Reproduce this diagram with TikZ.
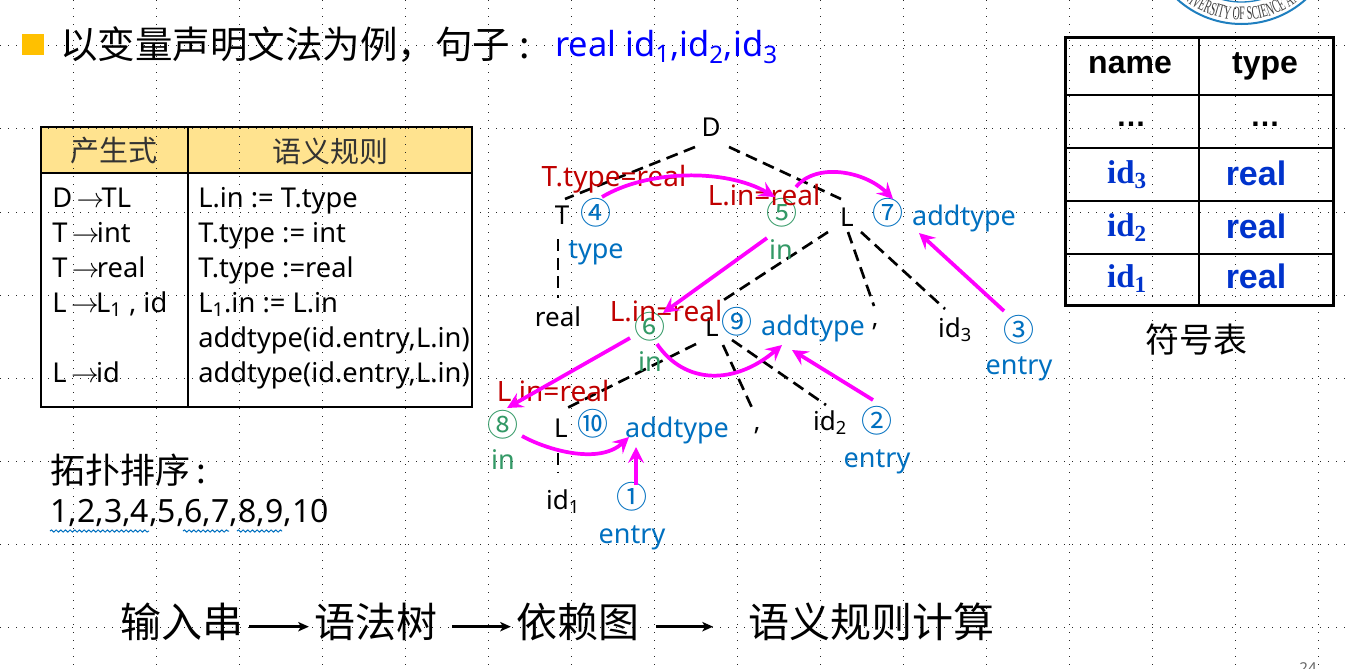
\documentclass[tikz,border=0pt]{standalone}
\usepackage{fontspec}
\usepackage{xcolor}
\setmainfont{Noto Sans}
\newfontfamily\cjk{Noto Sans CJK SC}
\newfontfamily\boldsans{Liberation Sans}
\newfontfamily\boldserif{Liberation Serif}
\newfontfamily\sealfont[FakeStretch=0.52]{Liberation Serif}
\usetikzlibrary{arrows.meta,decorations.text,decorations.pathmorphing}

\definecolor{attrblue}{HTML}{0070C0}
\definecolor{attrgreen}{HTML}{339966}
\definecolor{valred}{HTML}{C00000}
\definecolor{headfill}{HTML}{FFE38F}
\definecolor{tabblue}{HTML}{0033CC}
\definecolor{titleblue}{HTML}{0000FF}
\definecolor{sealblue}{HTML}{1F7FBF}
\definecolor{bulletfill}{HTML}{FFC000}
\definecolor{depmagenta}{HTML}{FF00FF}

% sizes are given in pixels of the reference
\newcommand{\pxfont}[1]{\fontsize{\the\dimexpr#1pt*3/4\relax}{\the\dimexpr#1pt*9/10\relax}\selectfont}
\newcommand{\prodto}{\,$\rightarrow$\hspace{-2pt}}

\tikzset{
    treelabel/.style={font=\pxfont{26}, text=black, inner sep=0pt},
    treeedge/.style={black, line width=2pt, dash pattern=on 9pt off 5pt},
    attrtext/.style={font=\pxfont{27}, text=attrblue, inner sep=0pt},
    intext/.style={font=\pxfont{27}, text=attrgreen, inner sep=0pt},
    valtext/.style={font=\pxfont{28}, text=valred, inner sep=0pt},
    bluenum/.style={font=\cjk\pxfont{31}, text=attrblue, inner sep=0pt},
    greennum/.style={font=\cjk\pxfont{31}, text=attrgreen, inner sep=0pt},
    deparrow/.style={depmagenta, line width=2.8pt, -{Stealth[length=12pt, width=12pt, inset=4.5pt]}},
    flowarrow/.style={black, line width=2pt, -{Stealth[length=8pt, width=7pt, inset=2pt]}},
    ruletext/.style={font=\pxfont{27.3}, anchor=base west, inner sep=0pt},
    headtext/.style={font=\cjk\pxfont{29}, text=black!80, inner sep=0pt},
    symhead/.style={font=\boldsans\bfseries\pxfont{32}, anchor=base, inner sep=0pt},
    symid/.style={font=\boldserif\bfseries\pxfont{33}, text=tabblue, inner sep=0pt},
    symreal/.style={font=\boldsans\bfseries\pxfont{34}, text=tabblue, inner sep=0pt},
    symdots/.style={font=\boldsans\bfseries\pxfont{30}, inner sep=0pt},
    flowtext/.style={font=\cjk\pxfont{41}, inner sep=0pt},
    griddots/.style={black!85, line width=0.75pt, dash pattern=on 0.75pt off 5.25pt},
}

\begin{document}
\begin{tikzpicture}[x=0.75pt, y=-0.75pt]
    \useasboundingbox (0,0) rectangle (1349,668);
    \clip (0,0) rectangle (1349,668);
    \fill[white] (0,0) rectangle (1349,668);
    \fill[headfill] (41,127) rectangle (472,173);

    % dotted background
    \foreach \gy in {45,128,212,295,378,461,544,627}
        \draw[griddots] (0,\gy) -- (1349,\gy);
    \foreach \gx in {73,156,239,322,405,488,571,654,737,820,903,986,1069,1152,1235,1318}
        \draw[griddots] (\gx,0) -- (\gx,668);

    % seal, cut by the page
    \draw[sealblue, line width=1.5pt] (1241.5,-72) circle (96);
    \draw[sealblue, line width=1pt] (1241.5,-72) circle (74);
    \path[decorate, decoration={text along path, text align=center,
        text={|\sealfont\pxfont{19}\color{black!75}|UNIVERSITY OF SCIENCE AND}}]
        (1161.8,-26) .. controls (1197.2,35.3) and (1285.8,35.3) .. (1321.2,-26);

    % title
    \fill[bulletfill] (22,34) rectangle (44,55);
    \node[font=\cjk\pxfont{37.5}, anchor=west, inner sep=0pt] (title) at (60,45) {以变量声明文法为例，句子\hspace{7pt}:};
    \node[font=\pxfont{34.5}, text=titleblue, anchor=west, inner sep=0pt] (sentence) at (555,47)
        {real id\textsubscript{1},id\textsubscript{2},id\textsubscript{3}};

    % rule table
    \draw[line width=1.5pt] (41,127) rectangle (472,407);
    \draw[line width=1.5pt] (41,173) -- (472,173);
    \draw[line width=1.5pt] (188,127) -- (188,407);
    \node[headtext] (headprod) at (114,151) {产生式};
    \node[headtext] (headrule) at (330,151) {语义规则};
    \node[ruletext] (prod1) at (52,207) {D\prodto TL};
    \node[ruletext] (prod2) at (52,242) {T\prodto int};
    \node[ruletext] (prod3) at (52,277) {T\prodto real};
    \node[ruletext] (prod4) at (52,312) {L\prodto L\textsubscript{1} , id};
    \node[ruletext] (prod5) at (52,382) {L\prodto id};
    \node[ruletext] (rule1) at (198,207) {L.in := T.type};
    \node[ruletext] (rule2) at (198,242) {T.type := int};
    \node[ruletext] (rule3) at (198,277) {T.type :=real};
    \node[ruletext] (rule4) at (198,312) {L\textsubscript{1}.in := L.in};
    \node[ruletext] (rule5) at (198,347) {addtype(id.entry,L.in)};
    \node[ruletext] (rule6) at (198,382) {addtype(id.entry,L.in)};

    % topological order
    \node[font=\cjk\pxfont{35}, anchor=west, inner sep=0pt] (topo) at (50,470) {拓扑排序\,:};
    \node[font=\pxfont{32}, anchor=west, inner sep=0pt] (order) at (50,513) {1,2,3,4,5,6,7,8,9,10};
    \draw[attrblue, line width=0.75pt, decorate, decoration={snake, amplitude=0.8pt, segment length=3.5pt}] (50,531) -- (149,531);
    \draw[attrblue, line width=0.75pt, decorate, decoration={snake, amplitude=0.8pt, segment length=3.5pt}] (183,531) -- (229,531);
    \draw[attrblue, line width=0.75pt, decorate, decoration={snake, amplitude=0.8pt, segment length=3.5pt}] (237,531) -- (282,531);

    % parse tree
    \node[treelabel] (D) at (711,127) {D};
    \node[treelabel] (T) at (562,215) {T};
    \node[treelabel] (L) at (847,217) {L};
    \node[treelabel] (real) at (558,317) {real};
    \node[treelabel] (commaa) at (875,327) {,};
    \node[treelabel] (ida) at (955,330) {id\textsubscript{3}};
    \node[treelabel] (Lb) at (712,327) {L};
    \node[treelabel] (commab) at (757,431) {,};
    \node[treelabel] (idb) at (830,423) {id\textsubscript{2}};
    \node[treelabel] (Lc) at (561,428) {L};
    \node[treelabel] (idc) at (563,502) {id\textsubscript{1}};

    \draw[treeedge] ([shift={(-16,20)}]D.center) -- ([shift={(3,-16)}]T.center);
    \draw[treeedge] ([shift={(18,20)}]D.center) -- ([shift={(-6,-18)}]L.center);
    \draw[treeedge] ([shift={(-4,24)}]T.center) -- ([shift={(0,-19)}]real.center);
    \draw[treeedge] ([shift={(-19,15)}]L.center) -- ([shift={(7,-24)}]Lb.center);
    \draw[treeedge] ([shift={(1,15)}]L.center) -- ([shift={(-1,-21)}]commaa.center);
    \draw[treeedge] ([shift={(14,15)}]L.center) -- ([shift={(-10,-21)}]ida.center);
    \draw[treeedge] ([shift={(-16,17)}]Lb.center) -- ([shift={(4,-19)}]Lc.center);
    \draw[treeedge] ([shift={(11,18)}]Lb.center) -- ([shift={(-4,-21)}]commab.center);
    \draw[treeedge] ([shift={(20,13)}]Lb.center) -- ([shift={(-4,-18)}]idb.center);
    \draw[treeedge] ([shift={(-3,25)}]Lc.center) -- ([shift={(-5,-30)}]idc.center);

    % attributes
    \node[bluenum] (nfour) at (596,213) {④};
    \node[attrtext] (type) at (596,253) {type};
    \node[greennum] (nfive) at (782,213) {⑤};
    \node[intext] (ina) at (781,250) {in};
    \node[bluenum] (nseven) at (888,213) {⑦};
    \node[attrtext] (adda) at (964,218) {addtype};
    \node[bluenum] (nthree) at (1019,330) {③};
    \node[attrtext] (entrya) at (1019,369) {entry};
    \node[greennum] (nsix) at (650,327) {⑥};
    \node[intext] (inb) at (650,362) {in};
    \node[bluenum] (nnine) at (737,322) {⑨};
    \node[attrtext] (addb) at (813,328) {addtype};
    \node[bluenum] (ntwo) at (877,421) {②};
    \node[attrtext] (entryb) at (877,462) {entry};
    \node[greennum] (neight) at (503,425) {⑧};
    \node[intext] (inc) at (503,460) {in};
    \node[bluenum] (nten) at (593,424) {⑩};
    \node[attrtext] (addc) at (677,430) {addtype};
    \node[bluenum] (none) at (632,497) {①};
    \node[attrtext] (entryc) at (632,538) {entry};

    % values
    \node[valtext] (vala) at (614,179) {T.type=real};
    \node[valtext] (valb) at (764,195) {L.in=real};
    \node[valtext] (valc) at (666,311) {L.in=real};
    \node[valtext] (vald) at (553,391) {L.in=real};

    % dependencies
    \draw[deparrow] ([shift={(6,-16)}]nfour.center) .. controls +(45,-27) and +(-50,-29) .. ([shift={(-7,-16)}]nfive.center);
    \draw[deparrow] ([shift={(14,-26)}]nfive.center) .. controls +(20,-25) and +(-28,-28) .. ([shift={(5,-14)}]nseven.center);
    \draw[deparrow] ([shift={(-15,25)}]nfive.center) -- ([shift={(13,-14)}]nsix.center);
    \draw[deparrow] ([shift={(-20,11)}]nsix.center) -- ([shift={(4,-17)}]neight.center);
    \draw[deparrow] ([shift={(7,17)}]nsix.center) .. controls +(28,41) and +(-47,40) .. ([shift={(-31,17)}]addb.center);
    \draw[deparrow] ([shift={(-4,-21)}]ntwo.center) -- ([shift={(-21,22)}]addb.center);
    \draw[deparrow] ([shift={(-15,-19)}]nthree.center) -- ([shift={(-45,15)}]adda.center);
    \draw[deparrow] ([shift={(19,11)}]neight.center) .. controls +(25,14) and +(-30,28) .. ([shift={(-48,7)}]addc.center);
    \draw[deparrow] ([shift={(4,-12)}]none.center) -- ([shift={(-41,17)}]addc.center);

    % symbol table
    \draw[line width=2.25pt] (1065,37) rectangle (1333,305);
    \draw[line width=1.5pt] (1199,37) -- (1199,305);
    \foreach \ry in {95,148,201,254}
        \draw[line width=1.5pt] (1065,\ry) -- (1333,\ry);
    \node[symhead] (symname) at (1130,73) {name};
    \node[symhead] (symtype) at (1265,73) {type};
    \node[symdots] (dotsa) at (1131,124) {…};
    \node[symdots] (dotsb) at (1265,124) {…};
    \node[symid] (symidc) at (1127,175) {id\textsubscript{3}};
    \node[symreal] (symrealc) at (1256,173) {real};
    \node[symid] (symidb) at (1127,228) {id\textsubscript{2}};
    \node[symreal] (symrealb) at (1256,226) {real};
    \node[symid] (symida) at (1127,279) {id\textsubscript{1}};
    \node[symreal] (symreala) at (1256,276) {real};
    \node[font=\cjk\pxfont{34}, inner sep=0pt] (symcap) at (1196,340) {符号表};

    % compile steps
    \node[flowtext] (finput) at (182,622) {输入串};
    \node[flowtext] (ftree) at (376,622) {语法树};
    \node[flowtext] (fgraph) at (578,622) {依赖图};
    \node[flowtext] (fcalc) at (871,622) {语义规则计算};
    \draw[flowarrow] ([xshift=4pt,yshift=-3.5pt]finput.east) -- ([xshift=-4pt,yshift=-3.5pt]ftree.west);
    \draw[flowarrow] ([xshift=11pt,yshift=-3.5pt]ftree.east) -- ([xshift=-4pt,yshift=-3.5pt]fgraph.west);
    \draw[flowarrow] ([xshift=12pt,yshift=-3.5pt]fgraph.east) -- ([xshift=-26pt,yshift=-3.5pt]fcalc.west);

    % page number, cut by the page
    \node[font=\pxfont{15}, text=black!60, inner sep=0pt] (pagenum) at (1308,668) {24};
\end{tikzpicture}
\end{document}
